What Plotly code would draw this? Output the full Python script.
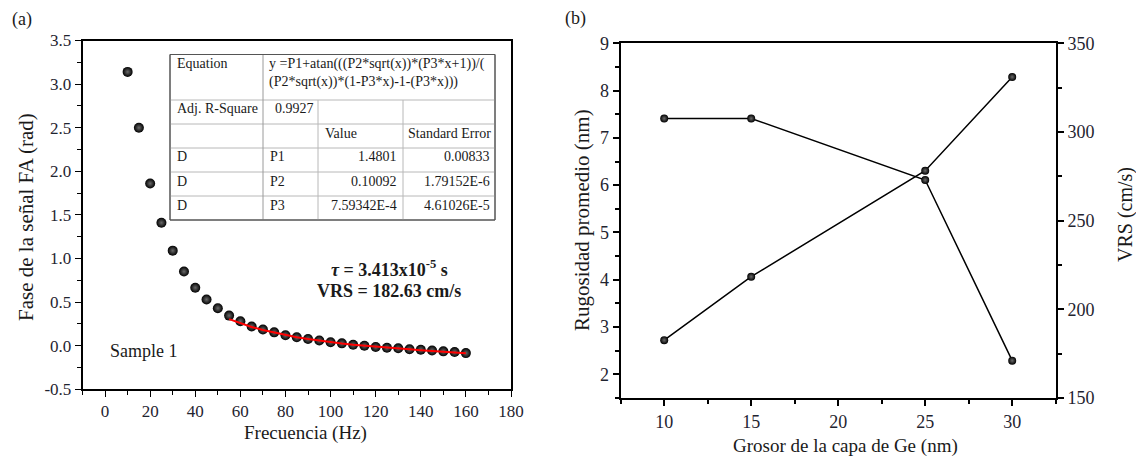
import plotly.graph_objects as go

# ---------------- data ----------------
freq = [10, 15, 20, 25, 30, 35, 40, 45, 50, 55, 60, 65, 70, 75, 80, 85, 90, 95, 100,
        105, 110, 115, 120, 125, 130, 135, 140, 145, 150, 155, 160]
phase = [3.14, 2.50, 1.86, 1.41, 1.09, 0.85, 0.665, 0.53, 0.43, 0.345, 0.28, 0.22, 0.185,
         0.153, 0.12, 0.096, 0.077, 0.06, 0.04, 0.027, 0.01, 0.0, -0.015, -0.023, -0.03,
         -0.04, -0.046, -0.056, -0.065, -0.073, -0.085]
fit_freq = [55, 60, 65, 70, 75, 80, 85, 90, 95, 100, 105, 110, 115, 120, 125, 130,
            135, 140, 145, 150, 155, 160]
fit_phase = [0.305, 0.26, 0.215, 0.18, 0.15, 0.12, 0.097, 0.077, 0.058, 0.04, 0.026,
             0.012, 0.0, -0.012, -0.022, -0.032, -0.042, -0.051, -0.06, -0.069, -0.078, -0.088]

y1_tickvals = [-0.5, 0.0, 0.5, 1.0, 1.5, 2.0, 2.5, 3.0, 3.5]
y1_ticktext = ["-0.5", "0.0", "0.5", "1.0", "1.5", "2.0", "2.5", "3.0", "3.5"]

thickness = [10, 15, 25, 30]
roughness = [7.41, 7.41, 6.11, 2.29]
vrs = [182.63, 218.4, 278.2, 331.0]

table_rows = [
    ["Adj. R-Square", "0.9927", "", ""],
    ["", "", "Value", "Standard Error"],
    ["D", "P1", "1.4801", "0.00833"],
    ["D", "P2", "0.10092", "1.79152E-6"],
    ["D", "P3", "7.59342E-4", "4.61026E-5"],
]
equation_lines = ["y =P1+atan(((P2*sqrt(x))*(P3*x+1))/(",
                  "(P2*sqrt(x))*(1-P3*x)-1-(P3*x)))"]

# ---------------- helpers ----------------
W, H = 1136, 460
def px(x):
    return x / W
def py(y):
    return 1 - y / H

SERIF = "Liberation Serif"
TICKC = "#1f2430"
tickfont_l = dict(family=SERIF, size=17, color=TICKC)
tickfont_r = dict(family=SERIF, size=18, color=TICKC)

marker_l = dict(size=10, color="black", line=dict(width=0),
                gradient=dict(type="radial", color="#6a6a6a"))
marker_r = dict(size=8, color="black", line=dict(width=0),
                gradient=dict(type="radial", color="#6a6a6a"))

fig = go.Figure()
fig.add_trace(go.Scatter(x=freq, y=phase, mode="markers", marker=marker_l,
                         xaxis="x", yaxis="y", showlegend=False))
fig.add_trace(go.Scatter(x=fit_freq, y=fit_phase, mode="lines",
                         line=dict(color="red", width=2), xaxis="x", yaxis="y",
                         showlegend=False))
fig.add_trace(go.Scatter(x=thickness, y=roughness, mode="lines+markers",
                         line=dict(color="black", width=1.5), marker=marker_r,
                         xaxis="x2", yaxis="y2", showlegend=False))
fig.add_trace(go.Scatter(x=thickness, y=vrs, mode="lines+markers",
                         line=dict(color="black", width=1.5), marker=marker_r,
                         xaxis="x2", yaxis="y3", showlegend=False))

common = dict(showgrid=False, zeroline=False, showline=True, linecolor="black",
              ticks="outside", tickcolor="black", automargin=False)

fig.update_layout(
    template="none",
    width=W, height=H, margin=dict(l=0, r=0, t=0, b=0, pad=0), autosize=False,
    paper_bgcolor="white", plot_bgcolor="white", showlegend=False,
    xaxis=dict(domain=[px(82.5), px(511)], range=[-10, 180], anchor="y",
               tick0=0, dtick=20, ticklen=6, tickwidth=1.2, linewidth=1.5, mirror=True,
               minor=dict(tick0=0, dtick=10, ticks="outside", ticklen=3.5, tickwidth=1.2,
                          tickcolor="black"),
               tickfont=tickfont_l, **common),
    yaxis=dict(domain=[py(389.3), py(40.5)], range=[-0.5, 3.5], anchor="x",
               tickmode="array", tickvals=y1_tickvals, ticktext=y1_ticktext,
               ticklen=6, tickwidth=1.2, linewidth=1.5, mirror=True,
               minor=dict(tick0=0, dtick=0.25, ticks="outside", ticklen=3.5, tickwidth=1.2,
                          tickcolor="black"),
               tickfont=tickfont_l, **common),
    xaxis2=dict(domain=[px(620.7), px(1055.7)], range=[7.5, 32.5], anchor="y2",
                tick0=10, dtick=5, ticklen=6, tickwidth=1.5, linewidth=2.2, mirror=True,
                minor=dict(tick0=10, dtick=2.5, ticks="outside", ticklen=4, tickwidth=1.5,
                           tickcolor="black"),
                tickfont=tickfont_r, **common),
    yaxis2=dict(domain=[py(398), py(43.3)], range=[1.5, 9], anchor="x2",
                tick0=2, dtick=1, ticklen=6, tickwidth=1.5, linewidth=2.2,
                minor=dict(tick0=2, dtick=0.5, ticks="outside", ticklen=4, tickwidth=1.5,
                           tickcolor="black"),
                tickfont=tickfont_r, **common),
    yaxis3=dict(overlaying="y2", side="right", anchor="x2", range=[150, 350],
                tick0=150, dtick=50, ticklen=6, tickwidth=1.5, linewidth=2.2,
                minor=dict(tick0=150, dtick=25, ticks="outside", ticklen=4, tickwidth=1.5,
                           tickcolor="black"),
                tickfont=tickfont_r, **common),
)

ann = []
def text(x, y, s, size=14, xanchor="left", angle=0, color="#1a1a1a"):
    ann.append(dict(x=px(x), y=py(y), xref="paper", yref="paper", text=s,
                    showarrow=False, xanchor=xanchor, yanchor="middle", textangle=angle,
                    font=dict(family=SERIF, size=size, color=color)))

# panel labels
text(22, 20, "(a)", size=18, xanchor="center")
text(575, 19, "(b)", size=18, xanchor="center")
# axis titles
text(26, 217, "Fase de la señal FA (rad)", size=21, xanchor="center", angle=-90)
text(305, 433, "Frecuencia (Hz)", size=19, xanchor="center")
text(582, 220, "Rugosidad promedio (nm)", size=21, xanchor="center", angle=-90)
text(1125, 215, "VRS (cm/s)", size=20, xanchor="center", angle=-90)
text(845, 446, "Grosor de la capa de Ge (nm)", size=19, xanchor="center")
# inner labels
text(144, 351, "Sample 1", size=18, xanchor="center")
text(389, 268, "<b><i>τ</i> = 3.413x10<sup>-5</sup> s</b>", size=18, xanchor="center")
text(389, 291, "<b>VRS = 182.63 cm/s</b>", size=18, xanchor="center")

# ---------------- fit table ----------------
TL, C1, C2, C3, TR = 170, 263, 318, 403, 495
ROWS = [54.5, 100, 124, 148, 172, 196, 220]
shapes = []
def line(x0, y0, x1, y1, color, w=1):
    shapes.append(dict(type="line", xref="paper", yref="paper",
                       x0=px(x0), y0=py(y0), x1=px(x1), y1=py(y1),
                       line=dict(color=color, width=w)))

shapes.append(dict(type="rect", xref="paper", yref="paper", x0=px(TL), y0=py(ROWS[-1]),
                   x1=px(TR), y1=py(ROWS[0]), fillcolor="white",
                   line=dict(color="#555555", width=1), layer="below"))
for r in ROWS[1:-1]:
    line(TL, r, TR, r, "#b8b8b8")
line(C1, ROWS[0], C1, ROWS[-1], "#9a9a9a")
line(C2, ROWS[1], C2, ROWS[-1], "#b8b8b8")
line(C3, ROWS[1], C3, ROWS[-1], "#b8b8b8")
line(TL, ROWS[0], TR, ROWS[0], "#555555")
line(TL, ROWS[-1], TR, ROWS[-1], "#555555")
line(TL, ROWS[0], TL, ROWS[-1], "#555555")
line(TR, ROWS[0], TR, ROWS[-1], "#555555")

TF = 14
text(175, 64, "Equation", size=TF)
text(267, 64, equation_lines[0], size=TF)
text(267, 82, equation_lines[1], size=TF)
for i, row in enumerate(table_rows):
    yc = (ROWS[i + 1] + ROWS[i + 2]) / 2 - 3
    c0, c1, c2, c3 = row
    if c0:
        text(175, yc, c0, size=TF)
    if c1:
        text(268 if i > 0 else 273, yc, c1, size=TF)
    if c2:
        if i == 1:
            text(323, yc, c2, size=TF)
        else:
            text(399, yc, c2, size=TF, xanchor="right")
    if c3:
        if i == 1:
            text(406, yc, c3, size=TF)
        else:
            text(492, yc, c3, size=TF, xanchor="right")

fig.update_layout(annotations=ann, shapes=shapes)
fig.write_html("out.html")
